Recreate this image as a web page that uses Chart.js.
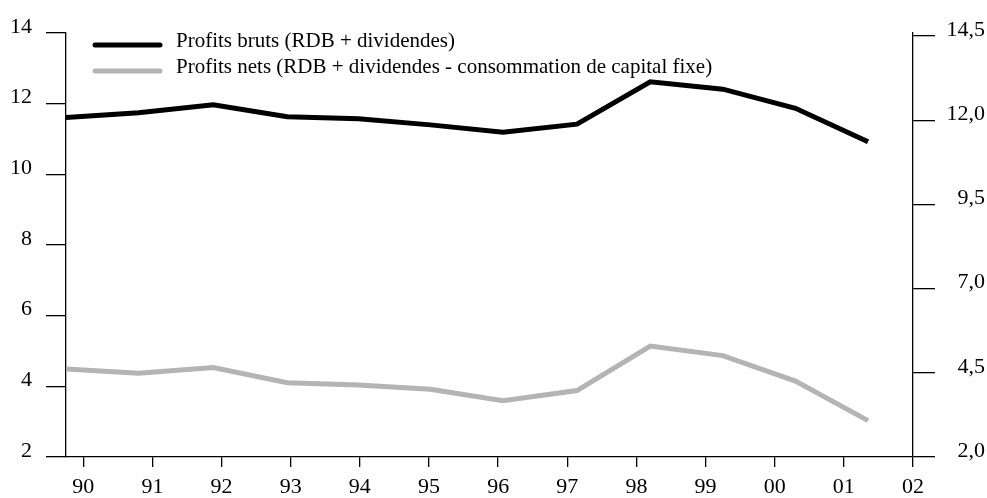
<!DOCTYPE html>
<html>
<head>
<meta charset="utf-8">
<script src="https://cdn.jsdelivr.net/npm/chart.js@4"></script>
<style>
    body { margin: 0; background: #fff; }
    canvas { display: block; }
</style>
</head>
<body>
<canvas id="chart" width="987" height="498"></canvas>
<script>
// positions of the points along the year axis (90 = 0)
const pointX = [-0.25, 0.8, 1.88, 2.95, 3.98, 5.02, 6.07, 7.14, 8.2, 9.25, 10.3, 11.35];
const grossProfits = [11.61, 11.74, 11.97, 11.63, 11.57, 11.4, 11.19, 11.42, 12.62, 12.41, 11.87, 10.92];
const netProfits = [4.49, 4.37, 4.53, 4.1, 4.04, 3.92, 3.59, 3.88, 5.14, 4.87, 4.15, 3.03];
const yearLabels = ['90', '91', '92', '93', '94', '95', '96', '97', '98', '99', '00', '01', '02'];
const leftTicks = [2, 4, 6, 8, 10, 12, 14];
const rightTicks = [2.0, 4.5, 7.0, 9.5, 12.0, 14.5];

const FONT = "'Liberation Serif', 'Times New Roman', serif";

const toPoints = (values) => values.map((v, i) => ({ x: pointX[i], y: v }));

const legendInside = {
    id: 'legendInside',
    afterDraw(chart) {
        const ctx = chart.ctx;
        ctx.save();
        ctx.font = '21px ' + FONT;
        ctx.textBaseline = 'alphabetic';
        ctx.textAlign = 'left';
        const rows = [46, 72];
        chart.data.datasets.forEach((ds, i) => {
            const y = rows[i];
            ctx.strokeStyle = ds.borderColor;
            ctx.lineWidth = 5;
            ctx.lineCap = 'round';
            ctx.beginPath();
            ctx.moveTo(95, y - 1);
            ctx.lineTo(160, y - 1);
            ctx.stroke();
            ctx.fillStyle = '#000';
            ctx.fillText(ds.label, 176, y + 1);
        });
        ctx.restore();
    },
};

const axisLine = { display: true, color: '#000', width: 1.3 };

new Chart(document.getElementById('chart').getContext('2d'), {
    type: 'line',
    data: {
        datasets: [
            {
                label: 'Profits bruts (RDB + dividendes)',
                data: toPoints(grossProfits),
                borderColor: '#000000',
                borderWidth: 5,
                pointRadius: 0,
                tension: 0,
                yAxisID: 'y',
            },
            {
                label: 'Profits nets (RDB + dividendes - consommation de capital fixe)',
                data: toPoints(netProfits),
                borderColor: '#b4b4b4',
                borderWidth: 5,
                pointRadius: 0,
                tension: 0,
                yAxisID: 'y',
            },
        ],
    },
    plugins: [legendInside],
    options: {
        responsive: false,
        animation: false,
        layout: {
            padding: { top: 33, right: 2, left: 0, bottom: 0 },
        },
        plugins: {
            legend: { display: false },
            tooltip: { enabled: false },
        },
        scales: {
            x: {
                type: 'linear',
                min: -0.25,
                max: 12,
                afterBuildTicks: (scale) => {
                    scale.ticks = yearLabels.map((l, i) => ({ value: i }));
                },
                afterFit: (scale) => {
                    scale.height = 41;
                },
                ticks: {
                    color: '#000',
                    font: { family: FONT, size: 22 },
                    padding: 7,
                    maxRotation: 0,
                    autoSkip: false,
                    callback: (value, index) => yearLabels[index],
                },
                grid: {
                    drawOnChartArea: false,
                    color: '#000',
                    lineWidth: 1.3,
                    tickLength: 10,
                },
                border: axisLine,
            },
            y: {
                position: 'left',
                min: 2,
                max: 14,
                afterBuildTicks: (scale) => {
                    scale.ticks = leftTicks.map((v) => ({ value: v }));
                },
                afterFit: (scale) => {
                    scale.width = 66;
                },
                ticks: {
                    color: '#000',
                    font: { family: FONT, size: 22 },
                    padding: 14,
                    labelOffset: -6,
                    callback: (value) => String(value),
                },
                grid: {
                    drawOnChartArea: false,
                    color: '#000',
                    lineWidth: 1.3,
                    tickLength: 20,
                },
                border: axisLine,
            },
            y1: {
                position: 'right',
                min: 2,
                max: 14.59,
                afterBuildTicks: (scale) => {
                    scale.ticks = rightTicks.map((v) => ({ value: v }));
                },
                afterFit: (scale) => {
                    scale.width = 72;
                },
                ticks: {
                    color: '#000',
                    font: { family: FONT, size: 22 },
                    crossAlign: 'far',
                    labelOffset: -6,
                    callback: (value) => value.toFixed(1).replace('.', ','),
                },
                grid: {
                    drawOnChartArea: false,
                    color: '#000',
                    lineWidth: 1.3,
                    tickLength: 22,
                },
                border: axisLine,
            },
        },
    },
});
</script>
</body>
</html>
